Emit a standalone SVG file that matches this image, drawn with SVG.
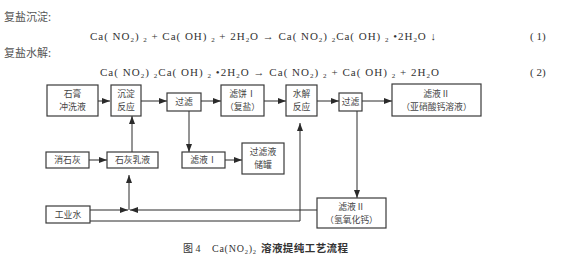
<svg xmlns="http://www.w3.org/2000/svg" width="564" height="256" viewBox="0 0 564 256">
<defs>
<marker id="ah" viewBox="0 0 8 6" refX="8" refY="3" markerWidth="8" markerHeight="6" markerUnits="userSpaceOnUse" orient="auto">
<path d="M0,0 L8,3 L0,6 Z" fill="#2a2a2a"/>
</marker>
<style>
.bx{fill:#fff;stroke:#3a3a3a;stroke-width:1.2}
.t{font-family:"Noto Sans CJK SC","Liberation Serif",serif;font-size:8.8px;fill:#444;text-anchor:middle}
.c{fill:none;stroke:#2a2a2a;stroke-width:1}
.eq{font-family:"Liberation Serif","Noto Sans CJK SC",serif;font-size:11px;fill:#333}
.lb{font-family:"Noto Sans CJK SC",sans-serif;font-size:11px;fill:#555}
.s{font-size:7px}
</style>
</defs>
<rect width="564" height="256" fill="#fff"/>

<text class="lb" x="4" y="21">复盐沉淀:</text>
<text class="eq" x="90" y="40" textLength="346" lengthAdjust="spacing">Ca( NO<tspan class="s" dy="2">2</tspan><tspan dy="-2">) </tspan><tspan class="s" dy="2">2</tspan><tspan dy="-2"> + Ca( OH) </tspan><tspan class="s" dy="2">2</tspan><tspan dy="-2"> + 2H</tspan><tspan class="s" dy="2">2</tspan><tspan dy="-2">O → Ca( NO</tspan><tspan class="s" dy="2">2</tspan><tspan dy="-2">) </tspan><tspan class="s" dy="2">2</tspan><tspan dy="-2">Ca( OH) </tspan><tspan class="s" dy="2">2</tspan><tspan dy="-2"> •2H</tspan><tspan class="s" dy="2">2</tspan><tspan dy="-2">O ↓</tspan></text>
<text class="eq" x="530" y="40">( 1)</text>
<text class="lb" x="4" y="57">复盐水解:</text>
<text class="eq" x="100" y="75.5" textLength="339" lengthAdjust="spacing">Ca( NO<tspan class="s" dy="2">2</tspan><tspan dy="-2">) </tspan><tspan class="s" dy="2">2</tspan><tspan dy="-2">Ca( OH) </tspan><tspan class="s" dy="2">2</tspan><tspan dy="-2"> •2H</tspan><tspan class="s" dy="2">2</tspan><tspan dy="-2">O → Ca( NO</tspan><tspan class="s" dy="2">2</tspan><tspan dy="-2">) </tspan><tspan class="s" dy="2">2</tspan><tspan dy="-2"> + Ca( OH) </tspan><tspan class="s" dy="2">2</tspan><tspan dy="-2"> + 2H</tspan><tspan class="s" dy="2">2</tspan><tspan dy="-2">O</tspan></text>
<text class="eq" x="530" y="75.5">( 2)</text>

<g id="connectors">
<path class="c" d="M98,101 H110" marker-end="url(#ah)"/>
<path class="c" d="M141,101 H167" marker-end="url(#ah)"/>
<path class="c" d="M201,101 H221" marker-end="url(#ah)"/>
<path class="c" d="M264,101 H286" marker-end="url(#ah)"/>
<path class="c" d="M317,101 H339" marker-end="url(#ah)"/>
<path class="c" d="M362,101 H392" marker-end="url(#ah)"/>
<path class="c" d="M89,160 H107" marker-end="url(#ah)"/>
<path class="c" d="M132,152 V116" marker-end="url(#ah)"/>
<path class="c" d="M189,111 V152" marker-end="url(#ah)"/>
<path class="c" d="M225,160 H242" marker-end="url(#ah)"/>
<path class="c" d="M90,210 H128" marker-end="url(#ah)"/>
<path class="c" d="M317,210 H130" marker-end="url(#ah)"/>
<path class="c" d="M129,210 V175" marker-end="url(#ah)"/>
<path class="c" d="M90,221 H300 V123" marker-end="url(#ah)"/>
<path class="c" d="M357,111 V198" marker-end="url(#ah)"/>
</g>

<g id="n1"><rect class="bx" x="47" y="85" width="51" height="31"/><text class="t" x="72.5" y="97">石膏</text><text class="t" x="72.5" y="110">冲洗液</text></g>
<g id="n2"><rect class="bx" x="111" y="85" width="30" height="31"/><text class="t" x="126" y="97">沉淀</text><text class="t" x="126" y="110">反应</text></g>
<g id="n3"><rect class="bx" x="167" y="93" width="34" height="18"/><text class="t" x="184" y="105">过滤</text></g>
<g id="n4"><rect class="bx" x="221" y="85" width="43" height="31"/><text class="t" x="242.5" y="97">滤饼Ⅰ</text><text class="t" x="242.5" y="110">（复盐）</text></g>
<g id="n5"><rect class="bx" x="286" y="85" width="31" height="31"/><text class="t" x="301.5" y="97">水解</text><text class="t" x="301.5" y="110">反应</text></g>
<g id="n6"><rect class="bx" x="339" y="93" width="23" height="18"/><text class="t" x="350.5" y="105">过滤</text></g>
<g id="n7"><rect class="bx" x="392" y="84" width="89" height="32"/><text class="t" x="436.5" y="96.5">滤液Ⅱ</text><text class="t" x="436.5" y="109.5">（亚硝酸钙溶液）</text></g>
<g id="n8"><rect class="bx" x="46" y="152" width="43" height="16"/><text class="t" x="67.5" y="163">消石灰</text></g>
<g id="n9"><rect class="bx" x="107" y="152" width="51" height="16"/><text class="t" x="132.5" y="163">石灰乳液</text></g>
<g id="n10"><rect class="bx" x="182" y="152" width="43" height="16"/><text class="t" x="203.5" y="163">滤液Ⅰ</text></g>
<g id="n11"><rect class="bx" x="242" y="143" width="42" height="31"/><text class="t" x="263" y="155">过滤液</text><text class="t" x="263" y="168">储罐</text></g>
<g id="n12"><rect class="bx" x="46" y="206" width="44" height="17"/><text class="t" x="68" y="217.5">工业水</text></g>
<g id="n13"><rect class="bx" x="317" y="198" width="69" height="30"/><text class="t" x="351.5" y="209.5">滤液Ⅱ</text><text class="t" x="351.5" y="222.5">（氢氧化钙）</text></g>

<text x="183" y="252" style="font-family:'Liberation Serif','Noto Sans CJK SC',serif;font-size:10px;fill:#333">图 4</text>
<text x="212" y="252" textLength="44" lengthAdjust="spacing" style="font-family:'Liberation Serif',serif;font-size:10px;fill:#333">Ca(NO<tspan font-size="6.5" dy="2">2</tspan><tspan dy="-2">)</tspan><tspan font-size="6.5" dy="2">2</tspan></text>
<text x="261" y="252" style="font-family:'Noto Sans CJK SC',sans-serif;font-size:10.5px;font-weight:bold;fill:#333" textLength="87">溶液提纯工艺流程</text>
</svg>
